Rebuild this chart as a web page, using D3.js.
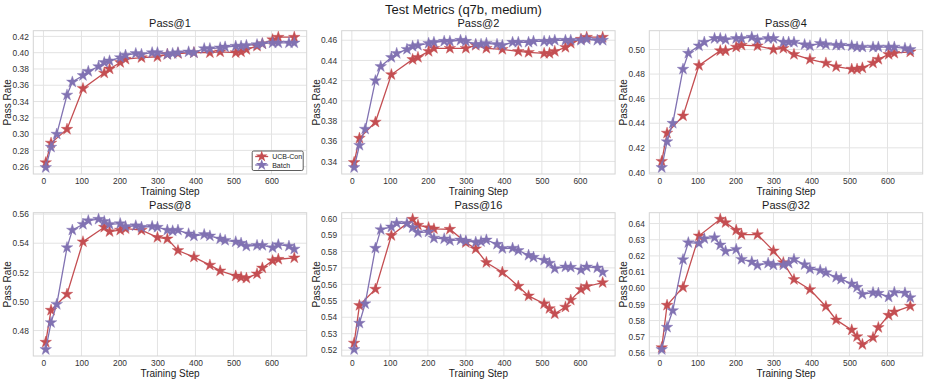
<!DOCTYPE html>
<html><head><meta charset="utf-8">
<script src="https://cdn.jsdelivr.net/npm/d3@7"></script>
<style>
body{margin:0;background:#fff}
svg{display:block}
text{font-family:"Liberation Sans",Arial,Helvetica,sans-serif}
</style></head>
<body><svg id="c" width="927" height="382"></svg>
<script>
const chartTitle = "Test Metrics (q7b, medium)";
const panelTitles = ["Pass@1","Pass@2","Pass@4","Pass@8","Pass@16","Pass@32"];
const seriesNames = ["UCB-Con","Batch"];
const xTicks = [0,100,200,300,400,500,600];

const stepsBatch = [6,20,35,62,76,104,118,145,160,174,202,216,243,258,286,300,326,340,354,382,396,423,438,465,478,506,520,534,562,576,603,618,646,660];
const stepsUCB = [6,20,62,104,160,174,202,216,258,300,326,354,396,438,465,506,520,534,562,576,603,618,660];

const ucbPass1 = [0.265,0.289,0.306,0.356,0.375,0.380,0.388,0.392,0.394,0.395,0.398,0.399,0.400,0.400,0.401,0.400,0.401,0.404,0.408,0.411,0.416,0.419,0.419];
const batchPass1 = [0.259,0.284,0.300,0.348,0.364,0.372,0.377,0.383,0.388,0.390,0.394,0.397,0.399,0.398,0.400,0.400,0.398,0.399,0.400,0.401,0.400,0.405,0.405,0.406,0.407,0.408,0.408,0.409,0.410,0.411,0.412,0.412,0.412,0.412];

const ucbPass2 = [0.339,0.363,0.379,0.426,0.441,0.443,0.449,0.452,0.452,0.452,0.455,0.452,0.451,0.449,0.448,0.447,0.447,0.449,0.453,0.457,0.461,0.463,0.463];
const batchPass2 = [0.334,0.356,0.372,0.420,0.434,0.443,0.447,0.451,0.454,0.455,0.457,0.458,0.459,0.459,0.460,0.459,0.456,0.456,0.457,0.456,0.455,0.458,0.458,0.458,0.459,0.459,0.459,0.460,0.460,0.460,0.460,0.461,0.460,0.460];

const ucbPass4 = [0.409,0.432,0.446,0.487,0.499,0.499,0.502,0.5035,0.503,0.500,0.501,0.496,0.492,0.489,0.486,0.484,0.484,0.485,0.489,0.492,0.496,0.497,0.498];
const batchPass4 = [0.404,0.425,0.440,0.484,0.497,0.503,0.506,0.509,0.509,0.508,0.509,0.509,0.510,0.508,0.509,0.509,0.506,0.506,0.506,0.504,0.503,0.505,0.504,0.5035,0.5035,0.503,0.502,0.502,0.502,0.502,0.502,0.502,0.501,0.500];

const ucbPass8 = [0.472,0.494,0.505,0.541,0.551,0.548,0.549,0.550,0.549,0.544,0.543,0.535,0.5305,0.525,0.521,0.5175,0.5165,0.516,0.519,0.523,0.528,0.529,0.530];
const batchPass8 = [0.467,0.4855,0.498,0.537,0.549,0.553,0.5555,0.5565,0.555,0.553,0.5535,0.5515,0.552,0.551,0.5515,0.551,0.549,0.5485,0.549,0.5465,0.545,0.546,0.545,0.543,0.542,0.541,0.540,0.538,0.5385,0.5385,0.537,0.539,0.538,0.536];

const ucbPass16 = [0.5243,0.5472,0.5571,0.5897,0.5996,0.596,0.5945,0.5937,0.5935,0.5854,0.5816,0.5733,0.5674,0.5589,0.553,0.5482,0.5453,0.5421,0.5462,0.5504,0.5569,0.5587,0.5611];
const batchPass16 = [0.5204,0.5364,0.5482,0.582,0.5933,0.5949,0.5972,0.597,0.5945,0.5915,0.5919,0.5881,0.5877,0.5866,0.587,0.5864,0.5856,0.586,0.587,0.5844,0.5818,0.582,0.5806,0.5777,0.5765,0.5747,0.5729,0.5696,0.5706,0.5704,0.5688,0.5706,0.57,0.5674];

const ucbPass32 = [0.5633,0.5895,0.6006,0.6324,0.6427,0.6406,0.6359,0.6332,0.6332,0.6231,0.6159,0.6054,0.5992,0.5887,0.5804,0.5742,0.5701,0.5652,0.5695,0.5757,0.5833,0.5854,0.5889];
const batchPass32 = [0.5621,0.5759,0.5862,0.6177,0.6282,0.6278,0.6307,0.6313,0.6268,0.6229,0.6241,0.6179,0.6163,0.6142,0.6155,0.6144,0.6144,0.6155,0.6179,0.6146,0.612,0.6111,0.6097,0.6068,0.6056,0.6027,0.6006,0.5963,0.5973,0.5969,0.5946,0.5975,0.5971,0.5942];

const yTicks1 = [0.26,0.28,0.30,0.32,0.34,0.36,0.38,0.40,0.42];
const yTicks2 = [0.34,0.36,0.38,0.40,0.42,0.44,0.46];
const yTicks4 = [0.40,0.42,0.44,0.46,0.48,0.50];
const yTicks8 = [0.48,0.50,0.52,0.54,0.56];
const yTicks16 = [0.52,0.53,0.54,0.55,0.56,0.57,0.58,0.59,0.60];
const yTicks32 = [0.56,0.57,0.58,0.59,0.60,0.61,0.62,0.63,0.64];

const ucbSeries = [ucbPass1,ucbPass2,ucbPass4,ucbPass8,ucbPass16,ucbPass32];
const batchSeries = [batchPass1,batchPass2,batchPass4,batchPass8,batchPass16,batchPass32];
const yTickSets = [yTicks1,yTicks2,yTicks4,yTicks8,yTicks16,yTicks32];

const RED = "#c44e52", PURPLE = "#8172b2";
const svg = d3.select("#c");

const lefts = [33.3, 341.7, 649.3];
const tops = [30.7, 212.7];
const W = 273.4, H = 143.3;

svg.append("text").attr("x", 463.5).attr("y", 13.5).attr("text-anchor","middle")
  .attr("font-size", 13).attr("fill","#1a1a1a").text(chartTitle);

const star = d3.symbol().type(d3.symbolStar).size(42);

function pad(ext){ const r = ext[1]-ext[0]; return [ext[0]-0.05*r, ext[1]+0.05*r]; }

panelTitles.forEach((t, i) => {
  const col = i % 3, row = Math.floor(i/3);
  const g = svg.append("g").attr("transform", `translate(${lefts[col]},${tops[row]})`);
  const ucb = ucbSeries[i], bat = batchSeries[i];
  const xs = pad(d3.extent(stepsBatch.concat(stepsUCB)));
  const ys = pad(d3.extent(ucb.concat(bat)));
  const x = d3.scaleLinear().domain(xs).range([0, W]);
  const y = d3.scaleLinear().domain(ys).range([H, 0]);

  g.append("g").selectAll("line").data(xTicks).join("line")
    .attr("x1", d=>x(d)).attr("x2", d=>x(d)).attr("y1",0).attr("y2",H)
    .attr("stroke","#e3e3e3").attr("stroke-width",1);
  g.append("g").selectAll("line").data(yTickSets[i]).join("line")
    .attr("y1", d=>y(d)).attr("y2", d=>y(d)).attr("x1",0).attr("x2",W)
    .attr("stroke","#e3e3e3").attr("stroke-width",1);
  g.append("rect").attr("width",W).attr("height",H).attr("fill","none").attr("stroke","#d4d4d4").attr("stroke-width",1);

  const xa = g.append("g").attr("transform",`translate(0,${H})`)
    .call(d3.axisBottom(x).tickValues(xTicks).tickSize(0).tickPadding(4).tickFormat(d3.format("d")));
  const ya = g.append("g")
    .call(d3.axisLeft(y).tickValues(yTickSets[i]).tickSize(0).tickPadding(4.5).tickFormat(d3.format(".2f")));
  [xa, ya].forEach(a => {
    a.select(".domain").remove();
    a.selectAll("text").attr("font-size", 8.4).attr("fill","#333")
      .attr("font-family","'Liberation Sans',Arial,sans-serif");
  });

  g.append("text").attr("x", W/2).attr("y", -3.5).attr("text-anchor","middle")
    .attr("font-size", 11).attr("fill","#1a1a1a").text(t);
  g.append("text").attr("x", W/2).attr("y", H+21).attr("text-anchor","middle")
    .attr("font-size", 10).attr("fill","#1a1a1a").text("Training Step");
  g.append("text").attr("transform", `translate(${-22},${H/2}) rotate(-90)`).attr("text-anchor","middle")
    .attr("font-size", 10).attr("fill","#1a1a1a").text("Pass Rate");

  const line = d3.line().x(d=>x(d[0])).y(d=>y(d[1]));
  const sets = [
    {steps: stepsUCB, vals: ucb, color: RED},
    {steps: stepsBatch, vals: bat, color: PURPLE}
  ];
  sets.forEach(s => {
    const pts = s.steps.map((st, k) => [st, s.vals[k]]);
    g.append("path").datum(pts).attr("d", line).attr("fill","none")
      .attr("stroke", s.color).attr("stroke-width", 1.3);
    g.append("g").selectAll("path").data(pts).join("path")
      .attr("d", star).attr("transform", d=>`translate(${x(d[0])},${y(d[1])})`)
      .attr("fill", s.color).attr("stroke", s.color).attr("stroke-width", 0.4);
  });

  if (i === 0) {
    const lg = g.append("g").attr("transform", `translate(${W-54.5},${H-23})`);
    lg.append("rect").attr("width", 51).attr("height", 19.5).attr("rx", 1.5)
      .attr("fill","#fff").attr("stroke","#333").attr("stroke-width",0.8);
    seriesNames.forEach((n, k) => {
      const c = k === 0 ? RED : PURPLE;
      const yy = 5.5 + k*8.5;
      lg.append("line").attr("x1",3).attr("x2",16).attr("y1",yy).attr("y2",yy)
        .attr("stroke",c).attr("stroke-width",1.3);
      lg.append("path").attr("d", star).attr("transform",`translate(9.5,${yy})`).attr("fill",c);
      lg.append("text").attr("x", 20).attr("y", yy+2.5).attr("font-size", 7).attr("fill","#222").text(n);
    });
  }
});
</script></body></html>
